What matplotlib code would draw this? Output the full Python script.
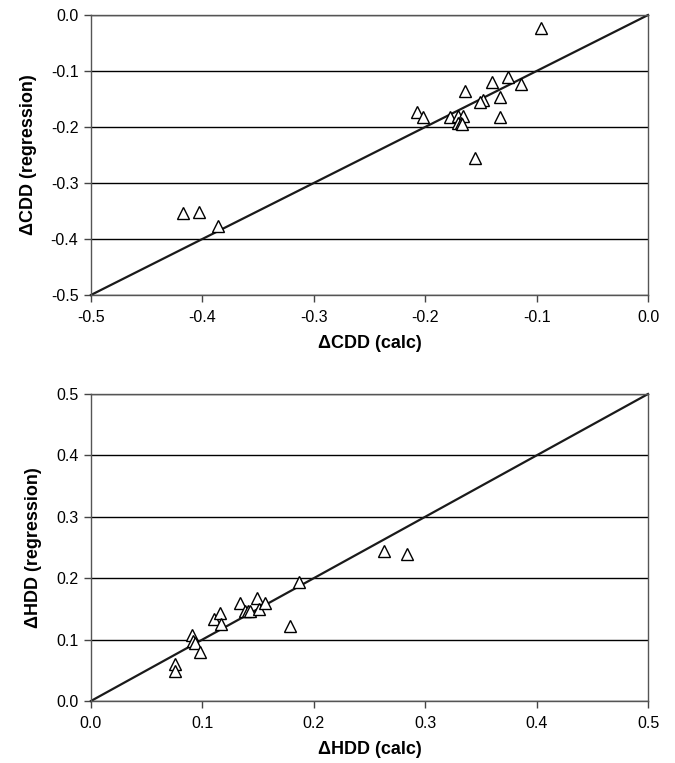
import matplotlib
matplotlib.use("Agg")
import matplotlib.pyplot as plt
from matplotlib.ticker import FormatStrFormatter

plt.rcParams["font.family"] = ["Liberation Sans", "DejaVu Sans"]
plt.rcParams["axes.unicode_minus"] = False

# cooling degree days: calculated vs regression
cdd_calc = [-0.096, -0.126, -0.114, -0.140, -0.164, -0.148, -0.151, -0.133,
            -0.207, -0.202, -0.178, -0.171, -0.166, -0.171, -0.168, -0.167,
            -0.133, -0.155, -0.417, -0.403, -0.386]
cdd_regr = [-0.024, -0.110, -0.123, -0.119, -0.136, -0.151, -0.155, -0.147,
            -0.174, -0.182, -0.182, -0.180, -0.180, -0.193, -0.193, -0.195,
            -0.182, -0.255, -0.354, -0.352, -0.377]

# heating degree days: calculated vs regression
hdd_calc = [0.075, 0.075, 0.091, 0.092, 0.093, 0.098, 0.110, 0.116, 0.117,
            0.134, 0.138, 0.141, 0.143, 0.149, 0.151, 0.156, 0.179, 0.187,
            0.263, 0.284]
hdd_regr = [0.061, 0.049, 0.108, 0.097, 0.094, 0.080, 0.133, 0.143, 0.126,
            0.159, 0.147, 0.147, 0.146, 0.168, 0.149, 0.160, 0.122, 0.194,
            0.244, 0.239]

cdd_ticks = [-0.5, -0.4, -0.3, -0.2, -0.1, 0.0]
hdd_ticks = [0.0, 0.1, 0.2, 0.3, 0.4, 0.5]


def draw_panel(ax, xs, ys, ticks, xlabel, ylabel):
    lo, hi = ticks[0], ticks[-1]
    for t in ticks:
        ax.axhline(t, color="black", lw=1.0, zorder=1)
    ax.plot([lo, hi], [lo, hi], color="#1a1a1a", lw=1.6, zorder=2, clip_on=False)
    ax.plot(xs, ys, linestyle="none", marker="^", markersize=8,
            markerfacecolor="white", markeredgecolor="black", markeredgewidth=1.0,
            zorder=3, clip_on=False)
    ax.set_xlim(lo, hi)
    ax.set_ylim(lo, hi)
    ax.set_xticks(ticks)
    ax.set_yticks(ticks)
    ax.xaxis.set_major_formatter(FormatStrFormatter("%.1f"))
    ax.yaxis.set_major_formatter(FormatStrFormatter("%.1f"))
    ax.tick_params(direction="out", length=5, width=1.0, color="#444444",
                   labelsize=11.5, pad=4)
    ax.tick_params(axis="x", pad=6)
    for s in ax.spines.values():
        s.set_color("#555555")
        s.set_linewidth(1.0)
    ax.set_xlabel(xlabel, fontsize=13, fontweight="bold", labelpad=7)
    ax.set_ylabel(ylabel, fontsize=13, fontweight="bold", labelpad=10)


fig = plt.figure(figsize=(6.75, 7.63), dpi=100)
ax1 = fig.add_axes([0.1348, 0.6134, 0.8252, 0.3669])
ax2 = fig.add_axes([0.1348, 0.0813, 0.8252, 0.4023])

draw_panel(ax1, cdd_calc, cdd_regr, cdd_ticks, "ΔCDD (calc)", "ΔCDD (regression)")
draw_panel(ax2, hdd_calc, hdd_regr, hdd_ticks, "ΔHDD (calc)", "ΔHDD (regression)")

fig.savefig("out.png", dpi=100)
